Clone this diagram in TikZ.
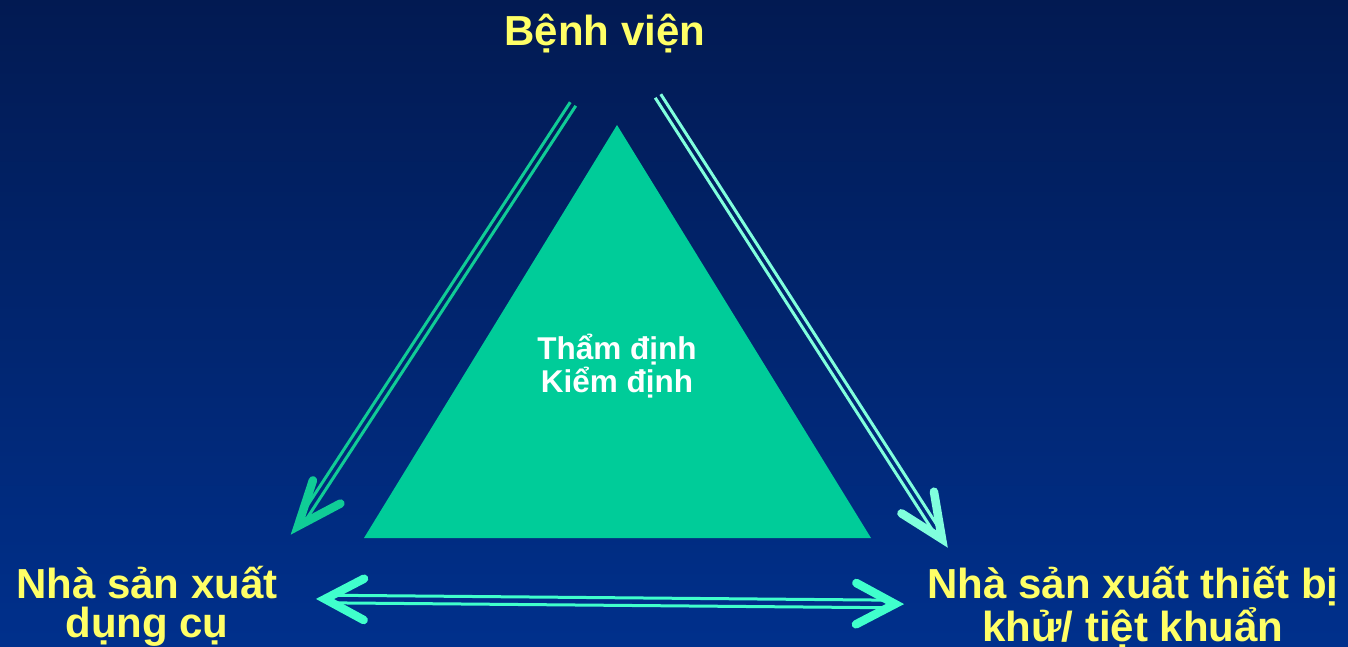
\documentclass[tikz,border=0pt]{standalone}
\usepackage{fontspec}
\setmainfont{Liberation Sans}
\usetikzlibrary{calc}
\definecolor{bgtop}{RGB}{2,26,82}
\definecolor{bgbot}{RGB}{0,48,140}
\definecolor{labelyellow}{RGB}{255,255,102}
\definecolor{triteal}{RGB}{0,204,153}
\definecolor{arrleft}{RGB}{16,204,150}
\definecolor{arrright}{RGB}{128,255,221}
\definecolor{arrbottom}{RGB}{64,255,204}
\tikzset{
  party/.style={font=\bfseries\fontsize{42}{39}\selectfont, text=labelyellow, align=center, inner sep=0pt},
  core/.style={font=\bfseries\fontsize{31.5}{30}\selectfont, text=white, align=center, inner sep=0pt},
  rail/.style={line width=3pt},
  chevron/.style={line width=8.5pt, line cap=round, line join=miter, miter limit=10},
}
\begin{document}
\begin{tikzpicture}[x=1pt,y=-1pt]
  \useasboundingbox (0,0) rectangle (1348,647);
  \shade[top color=bgtop, bottom color=bgbot] (0,0) rectangle (1348,647);

  % central triangle
  \fill[triteal] (617,125) -- (871,538) -- (364,538) -- cycle;
  \node[core, anchor=base] (core) at (617,392) {Thẩm định\\Kiểm định};

  % labels (base anchor sits on the last line)
  \node[party, anchor=base] (hosp) at (605,46) {Bệnh viện};
  \node[party, anchor=base] (tools) at (147,637) {Nhà sản xuất\\dụng cụ};
  \node[party, anchor=base] (steril) at (1133,641) {Nhà sản xuất thiết bị\\khử/ tiệt khuẩn};

  % arrow ends
  \coordinate (lA) at (573,104);
  \coordinate (lB) at (298,526);
  \coordinate (rA) at (658,96);
  \coordinate (rB) at (942,539);
  \coordinate (bA) at (325,599);
  \coordinate (bB) at (895,604);

  % hospital -> tool makers
  \foreach \s in {3.3,-3.3}{
    \draw[rail, arrleft] ($(lA)!\s pt!90:(lB)$) -- ($($(lB)!12pt!(lA)$)!\s pt!-90:(lA)$);
  }
  \draw[chevron, arrleft] ($(lB)!48pt!15:(lA)$) -- (lB) -- ($(lB)!48pt!-29:(lA)$);

  % hospital -> sterilizer makers
  \foreach \s in {3.3,-3.3}{
    \draw[rail, arrright] ($(rA)!\s pt!90:(rB)$) -- ($($(rB)!12pt!(rA)$)!\s pt!-90:(rA)$);
  }
  \draw[chevron, arrright] ($(rB)!48pt!25:(rA)$) -- (rB) -- ($(rB)!48pt!-23:(rA)$);

  % tool makers <-> sterilizer makers
  \foreach \s in {3.8,-3.8}{
    \draw[rail, arrbottom] ($($(bA)!12pt!(bB)$)!\s pt!90:(bB)$) -- ($($(bB)!12pt!(bA)$)!\s pt!-90:(bA)$);
  }
  \draw[chevron, arrbottom] ($(bA)!44pt!28:(bB)$) -- (bA) -- ($(bA)!44pt!-28:(bB)$);
  \draw[chevron, arrbottom] ($(bB)!44pt!28:(bA)$) -- (bB) -- ($(bB)!44pt!-28:(bA)$);
\end{tikzpicture}
\end{document}
